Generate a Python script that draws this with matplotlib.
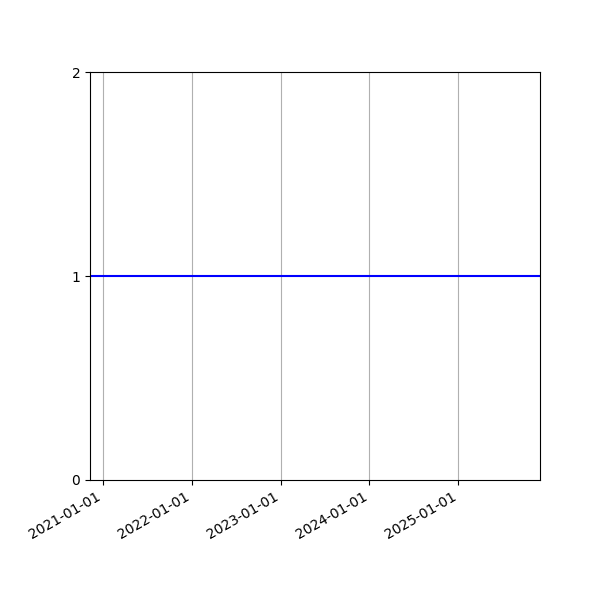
import matplotlib
matplotlib.use("Agg")
from matplotlib import pyplot as plt
import matplotlib.dates as mdates
import numpy as np

# la ligne constante
dates = np.array(["2020-11-09", "2025-12-02"], dtype="datetime64[D]")
valeurs = [1, 1]
ticks = np.array(["2021-01-01", "2022-01-01", "2023-01-01", "2024-01-01", "2025-01-01"], dtype="datetime64[D]")

fig, ax = plt.subplots(figsize=(6, 6), dpi=100)
ax.plot(dates, valeurs, 'b-')
ax.set_xlim(dates[0], dates[-1])
ax.set_ylim(0, 2)
ax.set_yticks([0, 1, 2])
ax.set_xticks(ticks)
ax.xaxis.set_major_formatter(mdates.DateFormatter('%Y-%m-%d'))
ax.grid(True, axis='x')
fig.autofmt_xdate()
fig.subplots_adjust(left=0.15)

plt.savefig("out.png")
